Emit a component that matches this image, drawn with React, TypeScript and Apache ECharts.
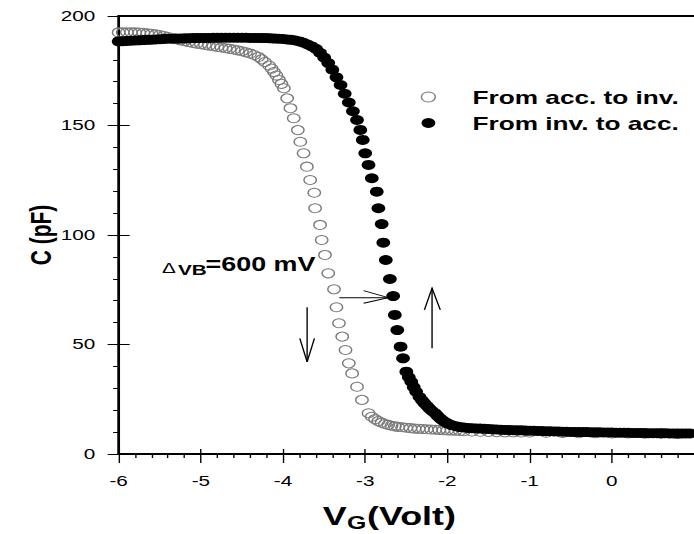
import React, { useEffect, useRef } from "react";
import * as echarts from "echarts";

// ---------- data ----------
const xTickMin = -6;
const xTickMax = 1;
const yTickMin = 0;
const yTickMax = 200;

const legendNames = ["From acc. to inv.", "From inv. to acc."];

// hollow circles : sweep from accumulation to inversion  [V, C(pF)]
const accToInv: [number, number][] = [
  [-6.0, 192.5], [-5.95, 192.5], [-5.9, 192.6], [-5.85, 192.6], [-5.8, 192.5], [-5.75, 192.4], [-5.7, 192.3],
  [-5.65, 192.1], [-5.6, 191.9], [-5.55, 191.6], [-5.5, 191.3], [-5.45, 190.9], [-5.4, 190.4], [-5.35, 189.9],
  [-5.3, 189.4], [-5.25, 188.9], [-5.2, 188.5], [-5.15, 188.1], [-5.1, 187.7], [-5.05, 187.4], [-5.0, 187.1],
  [-4.95, 186.8], [-4.9, 186.5], [-4.85, 186.2], [-4.8, 185.9], [-4.75, 185.6], [-4.7, 185.3], [-4.65, 185.0],
  [-4.6, 184.7], [-4.55, 184.3], [-4.5, 183.9], [-4.45, 183.4], [-4.4, 182.9], [-4.35, 182.2], [-4.3, 181.3],
  [-4.26, 180.2], [-4.22, 179.0], [-4.17, 177.4], [-4.14, 176.0], [-4.11, 174.4], [-4.08, 172.8], [-4.05, 170.8],
  [-4.02, 169.0], [-3.99, 167.0], [-3.95, 162.4], [-3.91, 157.9], [-3.87, 153.3], [-3.82, 147.9], [-3.79, 142.6],
  [-3.75, 137.3], [-3.71, 131.2], [-3.67, 125.1], [-3.62, 119.3], [-3.61, 112.2], [-3.55, 104.6], [-3.53, 97.7],
  [-3.49, 90.9], [-3.45, 82.5], [-3.38, 75.2], [-3.35, 67.0], [-3.32, 59.7], [-3.28, 53.6], [-3.24, 47.5],
  [-3.2, 41.4], [-3.16, 36.8], [-3.1, 30.7], [-3.04, 24.7], [-2.96, 18.6], [-2.92, 17.0], [-2.88, 15.9],
  [-2.84, 15.0], [-2.8, 14.3], [-2.76, 13.7], [-2.72, 13.3], [-2.68, 12.9], [-2.64, 12.6], [-2.6, 12.4],
  [-2.55, 12.2], [-2.5, 12.0], [-2.45, 11.8], [-2.4, 11.6], [-2.35, 11.5], [-2.3, 11.4], [-2.25, 11.3],
  [-2.2, 11.2], [-2.15, 11.1], [-2.1, 11.0], [-2.05, 10.9], [-2.0, 10.8], [-1.95, 10.7], [-1.9, 10.6],
  [-1.85, 10.5], [-1.8, 10.4], [-1.7, 10.3], [-1.6, 10.2], [-1.5, 10.1], [-1.4, 10.0], [-1.3, 9.9],
  [-1.2, 9.9], [-1.1, 9.8], [-1.0, 9.8], [-0.8, 9.7], [-0.6, 9.6], [-0.4, 9.5], [-0.2, 9.5], [0.0, 9.4],
  [0.2, 9.4], [0.4, 9.3], [0.6, 9.3], [0.8, 9.2],
];

// filled circles : sweep from inversion to accumulation  [V, C(pF)]
const invToAcc: [number, number][] = [
  [-6.0, 188.4], [-5.95, 188.5], [-5.9, 188.6], [-5.85, 188.7], [-5.8, 188.8], [-5.75, 188.9], [-5.7, 189.0],
  [-5.65, 189.1], [-5.6, 189.2], [-5.55, 189.3], [-5.5, 189.4], [-5.45, 189.5], [-5.4, 189.6], [-5.35, 189.6],
  [-5.3, 189.7], [-5.25, 189.7], [-5.2, 189.8], [-5.15, 189.8], [-5.1, 189.9], [-5.05, 189.9], [-5.0, 190.0],
  [-4.95, 190.0], [-4.9, 190.0], [-4.85, 190.1], [-4.8, 190.1], [-4.75, 190.1], [-4.7, 190.1], [-4.65, 190.1],
  [-4.6, 190.1], [-4.55, 190.1], [-4.5, 190.1], [-4.45, 190.1], [-4.4, 190.0], [-4.35, 190.0], [-4.3, 190.0],
  [-4.25, 189.9], [-4.2, 189.9], [-4.15, 189.8], [-4.1, 189.7], [-4.05, 189.6], [-4.0, 189.5], [-3.95, 189.3],
  [-3.9, 189.1], [-3.85, 188.8], [-3.8, 188.4], [-3.75, 187.8], [-3.7, 187.0], [-3.65, 186.1], [-3.6, 185.0],
  [-3.55, 183.2], [-3.5, 181.0], [-3.45, 178.5], [-3.4, 175.5], [-3.35, 172.0], [-3.3, 168.5], [-3.25, 164.5],
  [-3.2, 160.5], [-3.15, 156.5], [-3.1, 152.5], [-3.06, 148.0], [-3.03, 143.4], [-3.0, 137.3], [-2.96, 132.0],
  [-2.92, 125.9], [-2.86, 119.8], [-2.84, 112.2], [-2.8, 105.0], [-2.78, 96.5], [-2.75, 88.6], [-2.7, 79.9],
  [-2.66, 72.1], [-2.64, 63.5], [-2.61, 56.6], [-2.57, 49.0], [-2.54, 43.7], [-2.5, 37.6], [-2.47, 35.0],
  [-2.44, 33.0], [-2.41, 30.5], [-2.38, 28.4], [-2.34, 26.0], [-2.31, 24.5], [-2.28, 23.2], [-2.25, 22.0],
  [-2.22, 20.8], [-2.19, 19.7], [-2.15, 18.6], [-2.12, 17.4], [-2.09, 16.3], [-2.06, 15.4], [-2.03, 14.6],
  [-2.0, 14.0], [-1.95, 13.2], [-1.9, 12.7], [-1.85, 12.3], [-1.8, 12.1], [-1.75, 11.9], [-1.7, 11.8],
  [-1.65, 11.7], [-1.6, 11.6], [-1.55, 11.5], [-1.5, 11.4], [-1.45, 11.3], [-1.4, 11.2], [-1.35, 11.1],
  [-1.3, 11.0], [-1.25, 11.0], [-1.2, 10.9], [-1.15, 10.8], [-1.1, 10.8], [-1.05, 10.7], [-1.0, 10.6],
  [-0.95, 10.6], [-0.9, 10.5], [-0.85, 10.5], [-0.8, 10.4], [-0.75, 10.4], [-0.7, 10.3], [-0.65, 10.3],
  [-0.6, 10.2], [-0.55, 10.2], [-0.5, 10.1], [-0.45, 10.1], [-0.4, 10.0], [-0.35, 10.0], [-0.3, 10.0],
  [-0.25, 9.9], [-0.2, 9.9], [-0.15, 9.9], [-0.1, 9.8], [-0.05, 9.8], [0.0, 9.8], [0.05, 9.7], [0.1, 9.7],
  [0.15, 9.7], [0.2, 9.7], [0.25, 9.6], [0.3, 9.6], [0.35, 9.6], [0.4, 9.6], [0.45, 9.5], [0.5, 9.5],
  [0.55, 9.5], [0.6, 9.5], [0.65, 9.5], [0.7, 9.4], [0.75, 9.4], [0.8, 9.4], [0.85, 9.4], [0.9, 9.4], [0.95, 9.4],
];

// annotation arrows, in data coordinates: shaft from -> to, head wings
const arrows: { from: [number, number]; to: [number, number]; wings: [[number, number], [number, number]] }[] = [
  { from: [-3.315, 71.4], to: [-2.72, 71.4], wings: [[-3.02, 74.6], [-3.02, 68.8]] },
  { from: [-3.707, 67.0], to: [-3.707, 42.1], wings: [[-3.796, 52.8], [-3.618, 52.8]] },
  { from: [-2.187, 48.3], to: [-2.187, 75.7], wings: [[-2.28, 65.8], [-2.087, 65.8]] },
];

// ---------- layout ----------
const W = 503; // drawn width, stretched horizontally to 694 px like the source figure
const H = 534;
const STRETCH = 694 / W;
const FONT = "'Liberation Sans', Arial, Helvetica, sans-serif";

export default function App() {
  const ref = useRef<HTMLDivElement>(null);

  useEffect(() => {
    if (!ref.current) return;
    const chart = echarts.init(ref.current, null, { renderer: "svg" });

    const xBase = {
      type: "value" as const,
      min: xTickMin,
      max: xTickMax,
      interval: 1,
      splitLine: { show: false },
    };
    const yBase = {
      type: "value" as const,
      min: yTickMin,
      max: yTickMax,
      interval: 50,
      splitLine: { show: false },
    };

    chart.setOption({
      animation: false,
      backgroundColor: "#fff",
      grid: { left: 86, right: -2.7, top: 16, bottom: 80 },
      xAxis: [
        {
          ...xBase,
          position: "bottom",
          axisLine: { show: true, onZero: false, lineStyle: { color: "#000", width: 2 } },
          axisTick: { show: true, inside: false, length: 9, lineStyle: { color: "#000", width: 1 } },
          minorTick: { show: true, splitNumber: 5, length: 4, lineStyle: { color: "#000", width: 1 } },
          axisLabel: { margin: 20, fontSize: 15, color: "#000", fontFamily: FONT, showMaxLabel: false },
        },
        {
          ...xBase,
          position: "bottom",
          axisLine: { show: false, onZero: false },
          axisTick: { show: true, inside: true, length: 5, lineStyle: { color: "#000", width: 1 } },
          axisLabel: { show: false },
        },
        {
          ...xBase,
          position: "top",
          axisLine: { show: true, onZero: false, lineStyle: { color: "#000", width: 2 } },
          axisTick: { show: false },
          axisLabel: { show: false },
        },
      ],
      yAxis: [
        {
          ...yBase,
          position: "left",
          name: "C (pF)",
          nameLocation: "middle",
          nameGap: 46,
          nameMoveOverlap: false,
          nameTextStyle: { fontSize: 21, fontWeight: "bold", color: "#000", fontFamily: FONT },
          axisLine: { show: true, onZero: false, lineStyle: { color: "#000", width: 2 } },
          axisTick: { show: true, inside: false, length: 8, lineStyle: { color: "#000", width: 1 } },
          minorTick: { show: true, splitNumber: 5, length: 4, lineStyle: { color: "#000", width: 1 } },
          axisLabel: { margin: 17, fontSize: 15, color: "#000", fontFamily: FONT },
        },
        {
          ...yBase,
          position: "left",
          axisLine: { show: false, onZero: false },
          axisTick: { show: true, inside: true, length: 8, lineStyle: { color: "#000", width: 1 } },
          axisLabel: { show: false },
        },
      ],
      legend: {
        orient: "vertical",
        left: 300,
        top: 82,
        itemWidth: 10,
        itemHeight: 10,
        itemGap: 6,
        selectedMode: false,
        textStyle: {
          fontSize: 19,
          fontWeight: "bold",
          color: "#000",
          fontFamily: FONT,
          lineHeight: 20,
          padding: [0, 0, 0, 22],
        },
        data: [
          {
            name: legendNames[0],
            icon: "circle",
            itemStyle: { color: "rgba(0,0,0,0)", borderColor: "#7a7a7a", borderWidth: 1 },
          },
          { name: legendNames[1], icon: "circle", itemStyle: { color: "#000", borderWidth: 0 } },
        ],
      },
      series: [
        {
          name: legendNames[0],
          type: "scatter",
          xAxisIndex: 0,
          yAxisIndex: 0,
          symbol: "circle",
          symbolSize: 9,
          data: accToInv,
          itemStyle: { color: "rgba(0,0,0,0)", borderColor: "#7a7a7a", borderWidth: 1, opacity: 1 },
          emphasis: { disabled: true },
          z: 2,
        },
        {
          name: legendNames[1],
          type: "scatter",
          xAxisIndex: 0,
          yAxisIndex: 0,
          symbol: "circle",
          symbolSize: 10,
          data: invToAcc,
          itemStyle: { color: "#000", opacity: 1 },
          emphasis: { disabled: true },
          z: 3,
        },
      ],
    });

    const px = (p: [number, number]) =>
      chart.convertToPixel({ xAxisIndex: 0, yAxisIndex: 0 }, p) as number[];

    const arrowGraphics: any[] = [];
    arrows.forEach((a) => {
      const f = px(a.from);
      const t = px(a.to);
      const w1 = px(a.wings[0]);
      const w2 = px(a.wings[1]);
      arrowGraphics.push({
        type: "polyline",
        shape: { points: [f, t] },
        style: { stroke: "#000", lineWidth: 1, fill: null },
        silent: true,
        z: 10,
      });
      arrowGraphics.push({
        type: "polyline",
        shape: { points: [w1, t, w2] },
        style: { stroke: "#000", lineWidth: 1, fill: null },
        silent: true,
        z: 10,
      });
    });

    const textEl = (text: string, x: number, y: number, size: number, bold: boolean) => ({
      type: "text",
      x,
      y,
      silent: true,
      z: 10,
      style: {
        text,
        fill: "#000",
        fontSize: size,
        fontWeight: bold ? "bold" : "normal",
        fontFamily: FONT,
        align: "left",
        verticalAlign: "middle",
      },
    });

    chart.setOption({
      graphic: [
        ...arrowGraphics,
        // delta V_B annotation
        textEl("Δ", 117.5, 268, 15, false),
        textEl("VB", 129, 270, 15, true),
        textEl("=600 mV", 149, 264.5, 19.5, true),
        // x axis title V_G(Volt)
        textEl("V", 234, 516, 26, true),
        textEl("G", 251.5, 523, 18, true),
        textEl("(Volt)", 266, 516, 26, true),
      ],
    });

    return () => chart.dispose();
  }, []);

  return (
    <div
      ref={ref}
      style={{
        position: "absolute",
        left: 0,
        top: 0,
        width: W,
        height: H,
        transform: `scaleX(${STRETCH})`,
        transformOrigin: "0 0",
      }}
    />
  );
}
